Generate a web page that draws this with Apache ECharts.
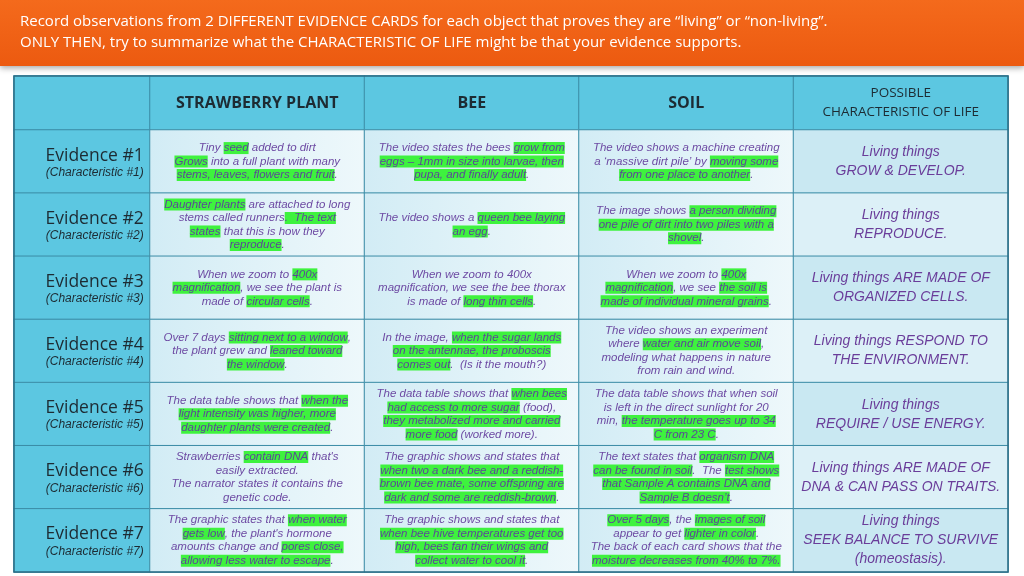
<!DOCTYPE html>
<html><head><meta charset="utf-8">
<script src="https://cdn.jsdelivr.net/npm/echarts@6/dist/echarts.min.js"></script>
<style>html,body{margin:0;padding:0;background:#fff}#c{width:1024px;height:576px}</style>
</head><body><div id="c"></div>
<script>
const headers = ['', 'STRAWBERRY PLANT', 'BEE', 'SOIL', 'POSSIBLE\nCHARACTERISTIC OF LIFE'];
const rowLabels = ['Evidence #1','Evidence #2','Evidence #3','Evidence #4','Evidence #5','Evidence #6','Evidence #7'];
const strawberry = [
 "Tiny [seed] added to dirt\n[Grows] into a full plant with many\n[stems, leaves, flowers and fruit].",
 "[Daughter plants] are attached to long\nstems called runners[.  The text]\n[states] that this is how they\n[reproduce].",
 "When we zoom to [400x]\n[magnification], we see the plant is\nmade of [circular cells].",
 "Over 7 days [sitting next to a window],\nthe plant grew and [leaned toward]\n[the window].",
 "The data table shows that [when the]\n[light intensity was higher, more]\n[daughter plants were created].",
 "Strawberries [contain DNA] that's\neasily extracted.\nThe narrator states it contains the\ngenetic code.",
 "The graphic states that [when water]\n[gets low], the plant's hormone\namounts change and [pores close,]\n[allowing less water to escape]."
];
const bee = [
 "The video states the bees [grow from]\n[eggs – 1mm in size into larvae, then]\n[pupa, and finally adult].",
 "The video shows a [queen bee laying]\n[an egg].",
 "When we zoom to 400x\nmagnification, we see the bee thorax\nis made of [long thin cells].",
 "In the image, [when the sugar lands]\n[on the antennae, the proboscis]\n[comes out].  (Is it the mouth?)",
 "The data table shows that [when bees]\n[had access to more sugar] (food),\n[they metabolized more and carried]\n[more food] (worked more).",
 "The graphic shows and states that\n[when two a dark bee and a reddish-]\n[brown bee mate, some offspring are]\n[dark and some are reddish-brown].",
 "The graphic shows and states that\n[when bee hive temperatures get too]\n[high, bees fan their wings and]\n[collect water to cool it]."
];
const soil = [
 "The video shows a machine creating\na ‘massive dirt pile’ by [moving some]\n[from one place to another].",
 "The image shows [a person dividing]\n[one pile of dirt into two piles with a]\n[shovel].",
 "When we zoom to [400x]\n[magnification], we see [the soil is]\n[made of individual mineral grains].",
 "The video shows an experiment\nwhere [water and air move soil],\nmodeling what happens in nature\nfrom rain and wind.",
 "The data table shows that when soil\nis left in the direct sunlight for 20\nmin, [the temperature goes up to 34]\n[C from 23 C].",
 "The text states that [organism DNA]\n[can be found in soil].  The [test shows]\n[that Sample A contains DNA and]\n[Sample B doesn’t].",
 "[Over 5 days], the [images of soil]\nappear to get [lighter in color].\nThe back of each card shows that the\n[moisture decreases from 40% to 7%.]"
];
const possible = [
 "Living things\nGROW & DEVELOP.",
 "Living things\nREPRODUCE.",
 "Living things ARE MADE OF\n[ORGANIZED] CELLS.",
 "Living things RESPOND TO\nTHE ENVIRONMENT.",
 "Living things\nREQUIRE / USE ENERGY.",
 "Living things ARE MADE OF\nDNA & CAN PASS ON TRAITS.",
 "Living things\nSEEK BALANCE TO SURVIVE\n(homeostasis)."
];
const columns = [strawberry, bee, soil, possible];
const bodyRows = ['1','2','3','4','5','6','7'];

function toRich(s, n, h) {
  return s.split('\n').map(line => {
    let out = '';
    line.split(/(\[[^\]]*\])/).forEach(seg => {
      if (!seg) return;
      if (seg[0] === '[') out += '{' + h + '|' + seg.slice(1, -1) + '}';
      else out += '{' + n + '|' + seg + '}';
    });
    return out;
  }).join('\n');
}
const PURPLE = '#6d4aa3';
const cellFont = {fontFamily:'Liberation Sans', fontStyle:'italic', fontSize:11.5, color:PURPLE, lineHeight:13.5};
const possFont = {fontFamily:'Liberation Sans', fontStyle:'italic', fontSize:14, color:'#6a3d9a', lineHeight:19};
const CYAN = '#5cc7e1';

const headA = [{value:[0,0,1], itemStyle:{color:CYAN}, label:{formatter:''}}];
const headB = [0,1,2,3].map(c => ({value:[c,0,1], itemStyle:{color:CYAN},
  label:{formatter: c === 3 ? '{ph|POSSIBLE}\n{ph|CHARACTERISTIC OF LIFE}' : '{hd|' + headers[c+1] + '}'}}));
const bodyA = bodyRows.map((r, i) => ({
  value: [0, i, 1], itemStyle: {color: CYAN},
  label: {formatter: '{t|' + rowLabels[i] + '}\n{s|(Characteristic #' + (i+1) + ')}'}
}));
const bodyB = [];
for (let c = 0; c < 4; c++) {
  for (let i = 0; i < 7; i++) {
    let color, fmt;
    if (c === 3) {
      color = i % 2 ? '#dcf0f7' : '#c9e8f2';
      fmt = toRich(possible[i], 'p', 'p');
    } else {
      color = {type:'linear', x:0, y:0, x2:1, y2:0, colorStops:[{offset:0,color:'#d2ecf5'},{offset:1,color:'#eef8fb'}]};
      fmt = toRich(columns[c][i], 'n', 'h');
    }
    bodyB.push({value: [c, i, 1], itemStyle: {color}, label: {formatter: fmt}});
  }
}
const rich = {
  n: cellFont,
  h: Object.assign({}, cellFont, {backgroundColor: '#3ef23e', color: '#5a4a96'}),
  p: possFont,
  hd: {fontFamily:'Open Sans', fontWeight:'bold', fontSize:16, color:'#1d2b33'},
  ph: {fontFamily:'Open Sans', fontSize:13.5, color:'#1d2b33', lineHeight:19},
  t: {fontFamily:'Open Sans', fontSize:17.5, color:'#1d2b33', lineHeight:22, align:'right'},
  s: {fontFamily:'Liberation Sans', fontStyle:'italic', fontSize:12, color:'#1d2b33', align:'right'}
};
const cellStyle = {borderColor:'#3b8ca6', borderWidth:1};
const chart = echarts.init(document.getElementById('c'));
chart.setOption({
  animation: false,
  graphic: [
    {type:'rect', shape:{x:0,y:0,width:1024,height:66}, style:{fill:{type:'linear',x:0,y:0,x2:0,y2:1,colorStops:[{offset:0,color:'#f46a1c'},{offset:1,color:'#ec5a10'}]}, shadowBlur:6, shadowColor:'rgba(0,0,0,0.35)', shadowOffsetY:2}},
    {type:'text', left:20, top:11, style:{text:'Record observations from 2 DIFFERENT EVIDENCE CARDS for each object that proves they are “living” or “non-living”.\nONLY THEN, try to summarize what the CHARACTERISTIC OF LIFE might be that your evidence supports.', fill:'#fff', font:'15px "Open Sans"', lineHeight:21}},
    {type:'rect', shape:{x:14,y:76,width:994,height:496}, style:{fill:'none', stroke:'#2c6e86', lineWidth:1.5}, z:100}
  ],
  grid: [
    {left:14, top:76, width:136, height:54},
    {left:150, top:76, width:858, height:54},
    {left:14, top:130, width:136, height:442},
    {left:150, top:130, width:858, height:442}
  ],
  xAxis: [
    {type:'category', gridIndex:0, data:['label'], show:false},
    {type:'category', gridIndex:1, data:['s','b','so','p'], show:false},
    {type:'category', gridIndex:2, data:['label'], show:false},
    {type:'category', gridIndex:3, data:['s','b','so','p'], show:false}
  ],
  yAxis: [
    {type:'category', gridIndex:0, data:['h'], show:false},
    {type:'category', gridIndex:1, data:['h'], show:false},
    {type:'category', gridIndex:2, data:bodyRows, inverse:true, show:false},
    {type:'category', gridIndex:3, data:bodyRows, inverse:true, show:false}
  ],
  series: [
    {type:'heatmap', xAxisIndex:0, yAxisIndex:0, data:headA, itemStyle:cellStyle, label:{show:true, rich}},
    {type:'heatmap', xAxisIndex:1, yAxisIndex:1, data:headB, itemStyle:cellStyle, label:{show:true, rich, align:'center'}},
    {type:'heatmap', xAxisIndex:2, yAxisIndex:2, data:bodyA, itemStyle:cellStyle,
     label:{show:true, rich, position:'insideRight', distance:7}},
    {type:'heatmap', xAxisIndex:3, yAxisIndex:3, data:bodyB, itemStyle:cellStyle, label:{show:true, rich, align:'center'}}
  ]
});
</script></body></html>
